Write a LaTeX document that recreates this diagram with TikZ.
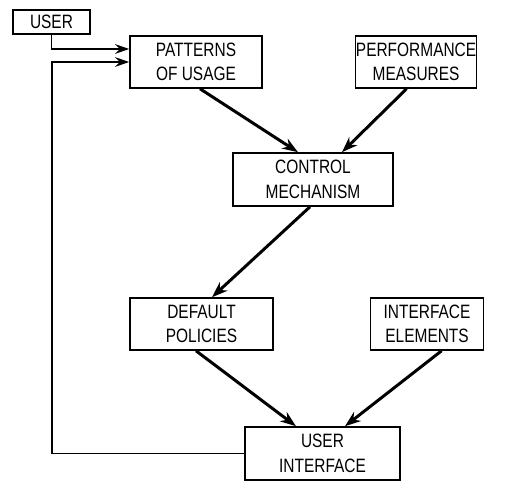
\documentclass[tikz,border=0pt]{standalone}
\usepackage{fontspec}
\setmainfont{Liberation Sans}[FakeStretch=0.8]
\usetikzlibrary{positioning,arrows.meta}

\begin{document}
\begin{tikzpicture}[
        box/.style={rectangle, draw=black, line width=0.9pt, inner sep=0pt, align=center, font=\fontsize{11}{14}\selectfont},
        arrow/.style={-{Stealth[length=9pt,width=6.5pt]}, line width=1.7pt},
        feed/.style={-{Stealth[length=8pt,width=5.5pt]}, line width=1.1pt},
      ]
      \useasboundingbox (0,0) rectangle (10.44,-9.64);
      \node [box, minimum width=1.54cm, minimum height=0.48cm] (user) at (1.03,-0.44) {USER};
      \node [box, minimum width=2.64cm, minimum height=1.04cm] (patterns) at (3.92,-1.24) {PATTERNS\\OF USAGE};
      \node [box, minimum width=2.42cm, minimum height=1.04cm, right=1.84cm of patterns] (perf) {PERFORMANCE\\MEASURES};
      \node [box, minimum width=3.2cm, minimum height=1.06cm] (control) at (6.26,-3.59) {CONTROL\\MECHANISM};
      \node [box, minimum width=2.86cm, minimum height=1.04cm] (default) at (4.03,-6.48) {DEFAULT\\POLICIES};
      \node [box, minimum width=2.26cm, minimum height=1.04cm, right=1.92cm of default] (ifelem) {INTERFACE\\ELEMENTS};
      \node [box, minimum width=3.1cm, minimum height=1.06cm] (ui) at (6.45,-9.07) {USER\\INTERFACE};
      \coordinate (bend) at (1.04,-1.24);
      \draw [feed] (user.south) |- ([yshift=0.26cm]patterns.west);
      \draw [feed] (ui.west) -| (bend) -- (patterns.west);
      \draw [arrow] ([xshift=0.08cm]patterns.south) -- ([xshift=-0.3cm]control.north);
      \draw [arrow] ([xshift=-0.19cm]perf.south) -- ([xshift=0.58cm]control.north);
      \draw [arrow] ([xshift=-0.06cm]control.south) -- ([xshift=0.21cm]default.north);
      \draw [arrow] ([xshift=-0.11cm]default.south) -- ([xshift=-0.53cm]ui.north);
      \draw [arrow] ([xshift=0.29cm]ifelem.south) -- ([xshift=0.45cm]ui.north);
    \end{tikzpicture}
\end{document}
